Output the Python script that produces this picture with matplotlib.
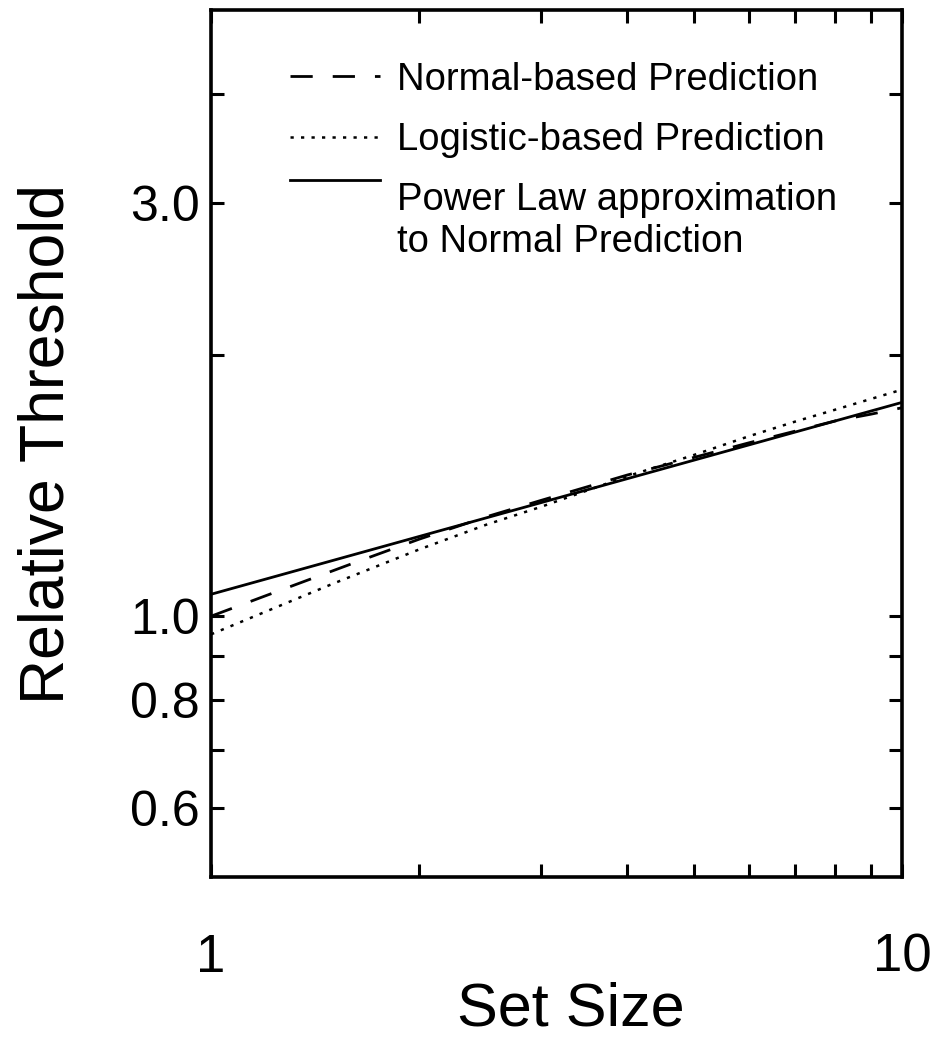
import numpy as np
import matplotlib
matplotlib.use('Agg')
import matplotlib.pyplot as plt
from matplotlib.legend_handler import HandlerLine2D

# values (log-log axes)
set_size_normal = [1, 1.2, 1.6, 2, 2.5, 3, 4, 5, 6, 7, 8, 9, 10]
normal_pred = [1.00, 1.056, 1.15, 1.227, 1.302, 1.36, 1.455, 1.525, 1.585, 1.635, 1.68, 1.71, 1.74]

set_size_logistic = [1, 1.5, 2, 2.5, 3, 4, 5, 6, 7, 8, 10]
logistic_pred = [0.953, 1.09, 1.194, 1.275, 1.337, 1.45, 1.535, 1.613, 1.677, 1.731, 1.826]

set_size_power = [1, 10]
power_pred = [1.06, 1.765]

xticks_major = [1, 10]
xticks_minor = [2, 3, 4, 5, 6, 7, 8, 9]
yticks_major = [0.6, 0.8, 1.0, 3.0]
ytick_labels = ['0.6', '0.8', '1.0', '3.0']
yticks_minor = [0.7, 0.9, 2.0, 4.0]

plt.rcParams['font.family'] = ['Liberation Sans', 'DejaVu Sans']

LEG_FS = 27.5


class HandlerFirstLine(HandlerLine2D):
    # put the legend sample on the first line of a two-line label
    def __init__(self, shift, **kw):
        super().__init__(**kw)
        self.shift = shift

    def create_artists(self, legend, orig_handle, xdescent, ydescent,
                       width, height, fontsize, trans):
        arts = super().create_artists(legend, orig_handle, xdescent, ydescent,
                                      width, height, fontsize, trans)
        for a in arts:
            a.set_ydata(np.asarray(a.get_ydata()) + self.shift)
        return arts


fig = plt.figure(figsize=(9.34, 10.38), dpi=100)
ax = fig.add_axes([0.226, 0.155, 0.740, 0.835])

ln_norm, = ax.plot(set_size_normal, normal_pred, color='black', lw=2.0,
                   linestyle=(0, (8.0, 7.2)), label='Normal-based Prediction')
ln_log, = ax.plot(set_size_logistic, logistic_pred, color='black', lw=1.8,
                  linestyle=(0, (1.3, 2.9)), label='Logistic-based Prediction')
ln_pow, = ax.plot(set_size_power, power_pred, color='black', lw=2.0,
                  label='Power Law approximation\nto Normal Prediction')

ax.set_xscale('log')
ax.set_yscale('log')
ax.set_xlim(1, 10)
ax.set_ylim(0.5, 5.0)

ax.set_xticks(xticks_major, labels=['1', '10'])
ax.set_xticks(xticks_minor, minor=True, labels=[])
ax.set_yticks(yticks_major, labels=ytick_labels)
ax.set_yticks(yticks_minor, minor=True, labels=[])

ax.tick_params(which='both', direction='in', top=True, right=True,
               length=9.5, width=2.2)
ax.tick_params(axis='x', which='major', labelsize=38, pad=40)
ax.tick_params(axis='y', which='major', labelsize=36, pad=8)
for s in ax.spines.values():
    s.set_linewidth(2.6)

ax.set_xlabel('Set Size', fontsize=44)
ax.set_ylabel('Relative Threshold', fontsize=45)
ax.xaxis.set_label_coords(0.52, -0.12)
ax.yaxis.set_label_coords(-0.195, 0.5)

leg = ax.legend(handles=[ln_norm, ln_log, ln_pow], loc='upper left',
                bbox_to_anchor=(0.114, 0.941), frameon=False,
                fontsize=LEG_FS, handlelength=2.36, handletextpad=0.45,
                labelspacing=0.64, borderpad=0, borderaxespad=0,
                handler_map={ln_pow: HandlerFirstLine(shift=1.086 * LEG_FS)})

fig.savefig('out.png', dpi=100)
